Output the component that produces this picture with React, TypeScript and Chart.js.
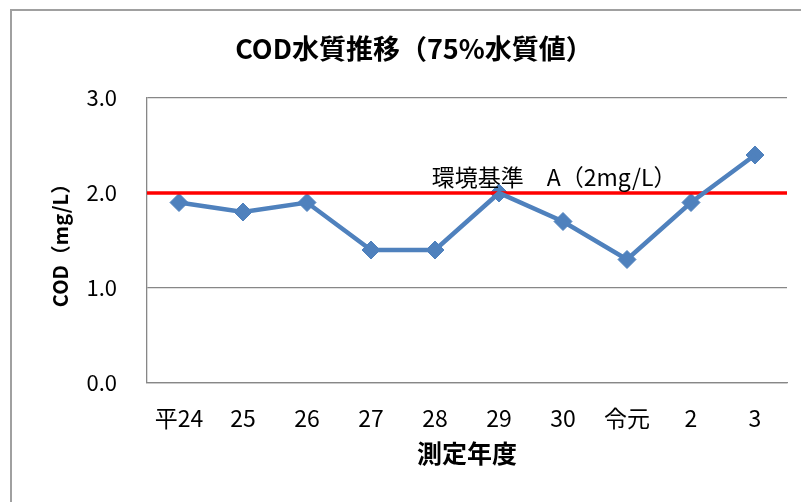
import React, { useEffect, useRef } from "react";
import { Chart, registerables } from "chart.js";

Chart.register(...registerables);

const categories = ["平24", "25", "26", "27", "28", "29", "30", "令元", "2", "3"];
const codValues = [1.9, 1.8, 1.9, 1.4, 1.4, 2.0, 1.7, 1.3, 1.9, 2.4];
const yTickValues = [0, 1, 2, 3];
const standardValue = 2;
const standardLabel = "環境基準　A（2mg/L）";
const chartTitle = "COD水質推移（75%水質値）";
const yAxisTitle = "COD（mg/L）";
const xAxisTitle = "測定年度";

const FONT = "'Noto Sans CJK JP', 'Noto Sans', sans-serif";
const BLUE = "#4F81BD";
const GRID = "#878787";

const standardLinePlugin = {
  id: "standardLine",
  afterDatasetDraw(chart: any, args: any) {
    if (args.index !== 1) return;
    const { ctx, chartArea, scales } = chart;
    const y = scales.y.getPixelForValue(standardValue);
    ctx.save();
    ctx.strokeStyle = "#FF0000";
    ctx.lineWidth = 3.5;
    ctx.beginPath();
    ctx.moveTo(chartArea.left, y);
    ctx.lineTo(chartArea.right, y);
    ctx.stroke();
    ctx.fillStyle = "#000";
    ctx.font = `23px ${FONT}`;
    ctx.textAlign = "left";
    ctx.textBaseline = "middle";
    const x = chartArea.left + (chartArea.right - chartArea.left) * 0.445;
    ctx.fillText(standardLabel, x, y - 16);
    ctx.restore();
  },
};

export default function App() {
  const ref = useRef<HTMLCanvasElement>(null);

  useEffect(() => {
    if (!ref.current) return;
    const chart = new Chart(ref.current, {
      type: "line",
      data: {
        labels: categories,
        datasets: [
          {
            label: "COD",
            data: codValues,
            borderColor: BLUE,
            borderWidth: 4.5,
            pointRadius: 0,
            pointHoverRadius: 0,
            fill: false,
            tension: 0,
          },
          {
            label: "COD markers",
            data: codValues,
            showLine: false,
            pointStyle: "rectRot",
            pointRadius: 9,
            pointBorderWidth: 1,
            pointBackgroundColor: BLUE,
            pointBorderColor: BLUE,
            borderColor: BLUE,
          },
        ],
      },
      plugins: [standardLinePlugin],
      options: {
        responsive: false,
        animation: false,
        events: [],
        layout: { padding: 0 },
        plugins: {
          legend: { display: false },
          tooltip: { enabled: false },
          title: {
            display: true,
            text: chartTitle,
            color: "#000",
            font: { family: FONT, size: 27, weight: "bold", lineHeight: 1.2 },
            padding: { top: 21.1, bottom: 33.5 },
          },
        },
        scales: {
          x: {
            offset: true,
            grid: { display: false, drawTicks: false },
            border: { display: true, color: GRID, width: 1.3 },
            ticks: {
              color: "#000",
              font: { family: FONT, size: 23, lineHeight: 1.2 },
              padding: 21,
              maxRotation: 0,
              autoSkip: false,
            },
            title: {
              display: true,
              text: xAxisTitle,
              color: "#000",
              font: { family: FONT, size: 25, weight: "bold", lineHeight: 1.2 },
              padding: { top: 0, bottom: 47 },
            },
            afterFit: (s: any) => {
              s.height = 132;
            },
          },
          y: {
            min: 0,
            max: 3,
            grid: { color: GRID, lineWidth: 1.3, drawTicks: false },
            border: { display: true, color: GRID, width: 1.3 },
            afterBuildTicks: (s: any) => {
              s.ticks = yTickValues.map((v) => ({ value: v }));
            },
            ticks: {
              color: "#000",
              font: { family: FONT, size: 22, lineHeight: 1.2 },
              padding: 30,
              callback: (v: any) => Number(v).toFixed(1),
            },
            title: {
              display: true,
              text: yAxisTitle,
              color: "#000",
              font: { family: FONT, size: 20, weight: "bold", lineHeight: 1.2 },
              padding: { top: 36, bottom: 0 },
            },
            afterFit: (s: any) => {
              s.width = 135;
            },
          },
          rightSpace: {
            type: "linear",
            position: "right",
            min: 0,
            max: 3,
            display: true,
            grid: { display: false, drawTicks: false },
            border: { display: false },
            ticks: { display: false },
            afterFit: (s: any) => {
              s.width = 29;
            },
          },
        },
      },
    });
    return () => chart.destroy();
  }, []);

  return (
    <div
      style={{
        position: "fixed",
        left: 0,
        top: 0,
        width: 801,
        height: 502,
        overflow: "hidden",
        background: "#fff",
      }}
    >
      <div
        style={{
          position: "absolute",
          left: 10,
          top: 9,
          width: 804,
          height: 504,
          border: "2px solid #A0A0A0",
          background: "#fff",
        }}
      >
        <canvas ref={ref} width={804} height={504} style={{ display: "block" }} />
      </div>
    </div>
  );
}
